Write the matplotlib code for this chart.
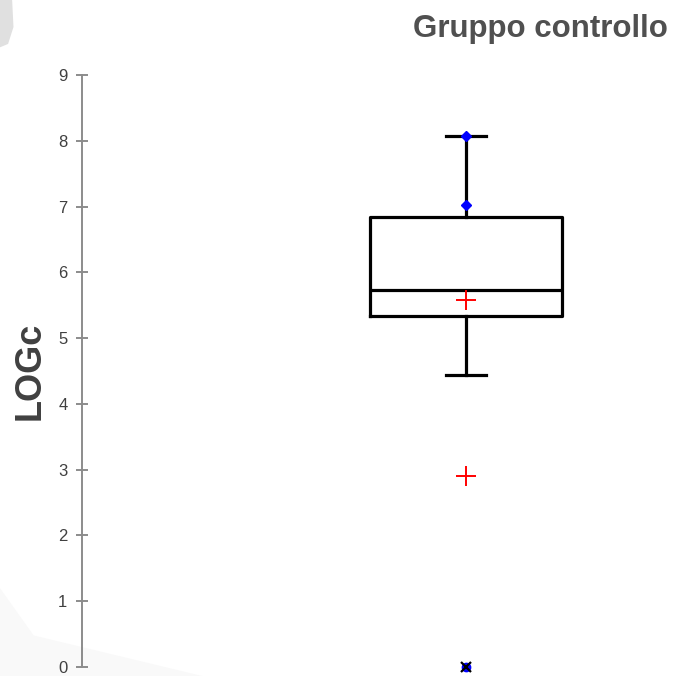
import matplotlib
matplotlib.use("Agg")
import matplotlib.pyplot as plt
from matplotlib.patches import Polygon

plt.rcParams['font.family'] = ['Liberation Sans', 'DejaVu Sans']

# Data
title = "Gruppo controllo"
ylabel = "LOGc"
yticks = [0, 1, 2, 3, 4, 5, 6, 7, 8, 9]
box_stats = dict(whislo=4.44, q1=5.33, med=5.73, q3=6.84, whishi=8.07)
blue_points = [8.07, 7.02]
red_plus = [5.58, 2.90]
zero_points = [0.0]

fig = plt.figure(figsize=(6.74, 6.76), dpi=100)
fig.patch.set_facecolor('white')

# faint decorative background shapes on a background axes
bg = fig.add_axes([0, 0, 1, 1], zorder=-10)
bg.set_xlim(0, 1)
bg.set_ylim(0, 1)
bg.axis('off')
bg.add_patch(Polygon([[0, 1.0], [0.018, 1.0], [0.02, 0.96], [0.012, 0.935], [0, 0.93]],
                     closed=True, facecolor='#e0e0e0', edgecolor='none'))
bg.add_patch(Polygon([[0, 0.13], [0.05, 0.06], [0.3, 0.0], [0, 0.0]],
                     closed=True, facecolor='#f9f9f9', edgecolor='none'))

ax = fig.add_axes([82/674, 9/676, 592/674, 592/676], zorder=1)
ax.patch.set_alpha(0)

xpos = (466 - 82) / 592
stats = [dict(box_stats, label='', fliers=[])]
ax.bxp(stats, positions=[xpos], widths=[192/592], showfliers=False,
       boxprops=dict(color='black', linewidth=2.3),
       whiskerprops=dict(color='black', linewidth=2.3),
       capprops=dict(color='black', linewidth=2.3),
       medianprops=dict(color='black', linewidth=2.3),
       capwidths=[40/592], manage_ticks=False)

ax.plot([xpos]*len(blue_points), blue_points, linestyle='none', marker='D',
        color='blue', markersize=5.5, zorder=5)
ax.plot([xpos]*len(red_plus), red_plus, linestyle='none', marker='+',
        color='red', markersize=15, markeredgewidth=1.4, zorder=5)
ax.plot([xpos]*len(zero_points), zero_points, linestyle='none', marker='o',
        color='blue', markersize=6, zorder=5, clip_on=False)
ax.plot([xpos]*len(zero_points), zero_points, linestyle='none', marker='x',
        color='black', markersize=7, markeredgewidth=1.6, zorder=6, clip_on=False)

ax.set_xlim(0, 1)
ax.set_ylim(0, 9)
ax.set_yticks(yticks)
ax.set_yticklabels([str(t) for t in yticks])
ax.set_xticks([])
for s in ['top', 'right', 'bottom']:
    ax.spines[s].set_visible(False)
ax.spines['left'].set_color('#8c8c8c')
ax.spines['left'].set_linewidth(1.4)
ax.tick_params(axis='y', direction='inout', length=9, width=1.4, color='#8c8c8c',
               labelsize=12, labelcolor='#404040', pad=6)

fig.text(668/674, 1 - 29/676, title, ha='right', va='center', fontsize=22.5,
         fontweight='bold', color='#505050')
fig.text(30/674, 1 - 371/676, ylabel, ha='center', va='center', rotation=90,
         fontsize=26, fontweight='bold', color='#404040')

fig.savefig('out.png', dpi=100, facecolor='white')
